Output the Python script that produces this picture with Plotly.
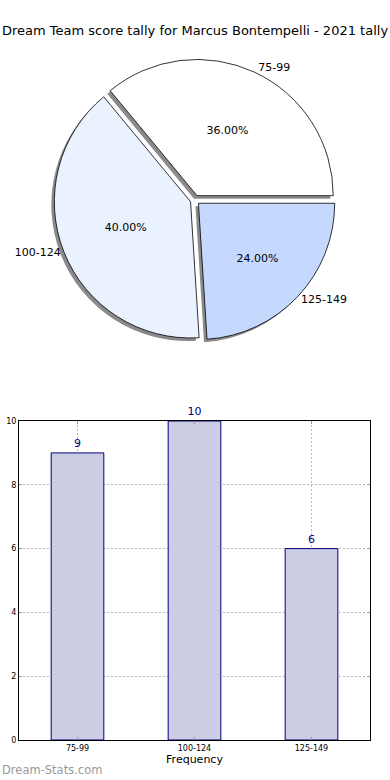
import plotly.graph_objects as go

categories = ["75-99", "100-124", "125-149"]
counts = [9, 10, 6]
pie_colors = ["#FFFFFF", "#EAF1FF", "#C5D9FF"]
title_text = "Dream Team score tally for Marcus Bontempelli - 2021 tally"

W, H = 390, 780

def px_x(a, b):
    return [a / W, b / W]

def px_y(top, bottom):
    return [1 - bottom / H, 1 - top / H]

# plotly's counterclockwise pie ends the first slice at `rotation`;
# start the first slice at 3 o'clock like matplotlib's default
rotation = 90 - 360 * counts[0] / sum(counts)

pull = [0.035, 0.035, 0.035]
pie_dom_x = px_x(54, 336)
pie_dom_y = px_y(59, 341)
shadow_dom_x = px_x(51, 333)
shadow_dom_y = px_y(62, 344)

fig = go.Figure()

common = dict(labels=categories, values=counts, sort=False,
              direction="counterclockwise", rotation=rotation, pull=pull)

# shadow
fig.add_trace(go.Pie(
    **common, domain=dict(x=shadow_dom_x, y=shadow_dom_y),
    marker=dict(colors=["#8a8a8a"] * 3, line=dict(color="#8a8a8a", width=0)),
    textinfo="none", hoverinfo="skip", showlegend=False,
))
# main pie with percentages inside
fig.add_trace(go.Pie(
    **common, domain=dict(x=pie_dom_x, y=pie_dom_y),
    marker=dict(colors=pie_colors, line=dict(color="#000000", width=0.8)),
    texttemplate="%{percent:.2%}", textposition="inside", insidetextorientation="horizontal",
    textfont=dict(family="DejaVu Sans", size=11, color="#000000"),
    showlegend=False,
))
# labels outside
fig.add_trace(go.Pie(
    **common, domain=dict(x=pie_dom_x, y=pie_dom_y),
    marker=dict(colors=["rgba(0,0,0,0)"] * 3, line=dict(width=0)),
    texttemplate="%{label}", textposition="outside",
    outsidetextfont=dict(family="DejaVu Sans", size=11, color="#000000"),
    hoverinfo="skip", showlegend=False,
))

fig.add_trace(go.Bar(
    x=categories, y=counts, width=0.45,
    marker=dict(color="#CCCCE5", line=dict(color="#000080", width=1)),
    text=[str(c) for c in counts], textposition="outside", cliponaxis=False,
    textfont=dict(family="DejaVu Sans", size=11, color="#000080"),
    xaxis="x", yaxis="y", showlegend=False,
))

grid = dict(showgrid=True, gridcolor="#b8b8b8", griddash="2px,2px", gridwidth=1)
fig.update_layout(
    width=W, height=H, autosize=False,
    margin=dict(l=0, r=0, t=0, b=0, autoexpand=False),
    paper_bgcolor="white", plot_bgcolor="white",
    font=dict(family="DejaVu Sans", color="#000000"),
    title=dict(text=title_text, x=0.5, xanchor="center", y=1 - 30 / H, yanchor="middle",
               font=dict(family="DejaVu Sans", size=13, color="#000000")),
    xaxis=dict(domain=px_x(19, 370), type="category", range=[-0.5, 2.5], automargin=False,
               showline=True, linecolor="#000000", linewidth=1, mirror="ticks",
               ticks="inside", ticklen=3, tickcolor="#999999",
               tickfont=dict(family="DejaVu Sans", size=8, color="#000000"),
               title=dict(text="Frequency", font=dict(family="DejaVu Sans", size=11, color="#000000"), standoff=2),
               anchor="y", **grid),
    yaxis=dict(domain=px_y(421, 740), range=[0, 10], dtick=2, automargin=False,
               showline=True, linecolor="#000000", linewidth=1, mirror="ticks",
               ticks="inside", ticklen=3, tickcolor="#999999",
               tickfont=dict(family="DejaVu Sans", size=8, color="#000000"),
               zeroline=False, anchor="x", **grid),
    annotations=[
        dict(text="Distribution", textangle=-90, xref="paper", yref="paper",
             x=3 / W, y=1 - 580 / H, xanchor="right", yanchor="middle",
             showarrow=False, font=dict(family="DejaVu Sans", size=9, color="#000000")),
        dict(text="Dream-Stats.com", xref="paper", yref="paper",
             x=0, y=1 - 770 / H, xanchor="left", yanchor="middle", showarrow=False,
             font=dict(family="DejaVu Sans", size=11.5, color="#999999")),
    ],
)

fig.write_html("out.html", config={"displayModeBar": False},
               post_script="document.body.style.margin='0px';")
